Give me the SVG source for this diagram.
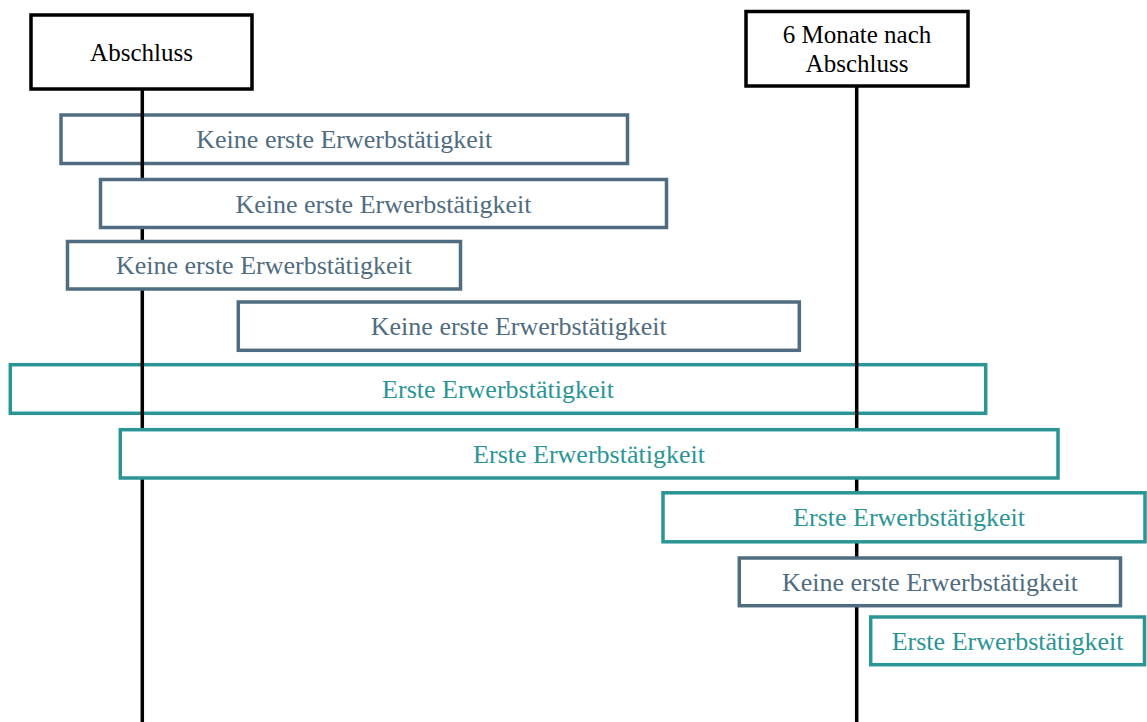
<svg xmlns="http://www.w3.org/2000/svg" width="1147" height="722" viewBox="0 0 1147 722">
<style>
.hdr{fill:#fff;stroke:#000;stroke-width:3.5}
.hdrt{font-family:"Liberation Serif","Times New Roman",serif;font-size:25px;fill:#000;text-anchor:middle}
.no{fill:#fff;stroke:#506C80;stroke-width:3.5}
.not{font-family:"Liberation Serif","Times New Roman",serif;font-size:26px;fill:#506C80;text-anchor:middle}
.yes{fill:#fff;stroke:#2B9595;stroke-width:3.5}
.yest{font-family:"Liberation Serif","Times New Roman",serif;font-size:26px;fill:#2B9595;text-anchor:middle}
.nofill{fill:none}
.conn{stroke:#000;stroke-width:3.5;fill:none}
</style>
<rect width="1147" height="722" fill="#fff"/>
<g id="row1">
<rect class="no" x="61" y="115" width="566.5" height="48.5"/>
<text class="not" x="344.3" y="148">Keine erste Erwerbstätigkeit</text>
</g>
<g id="row5">
<rect class="yes" x="10.3" y="364.7" width="975.4" height="48.6"/>
<text class="yest" x="498" y="398">Erste Erwerbstätigkeit</text>
</g>
<g id="connectors">
<line class="conn" x1="142.3" y1="89" x2="142.3" y2="722"/>
<line class="conn" x1="856.7" y1="86" x2="856.7" y2="722"/>
</g>
<g id="abschluss">
<rect class="hdr" x="31" y="15" width="221" height="74"/>
<text class="hdrt" x="141.5" y="61">Abschluss</text>
</g>
<g id="sechs-monate">
<rect class="hdr" x="746" y="11.5" width="222" height="74.5"/>
<text class="hdrt" x="857" y="43">6 Monate nach</text>
<text class="hdrt" x="857" y="72">Abschluss</text>
</g>
<g id="row2">
<rect class="no" x="100.5" y="179.5" width="566" height="48"/>
<text class="not" x="383.5" y="212.5">Keine erste Erwerbstätigkeit</text>
</g>
<g id="row3">
<rect class="no" x="67.5" y="241.5" width="393" height="47.5"/>
<text class="not" x="264" y="274.3">Keine erste Erwerbstätigkeit</text>
</g>
<g id="row4">
<rect class="no" x="238.3" y="302" width="561" height="48.3"/>
<text class="not" x="518.8" y="335">Keine erste Erwerbstätigkeit</text>
</g>
<g id="row6">
<rect class="yes" x="120.3" y="429.7" width="937.7" height="48.3"/>
<text class="yest" x="589" y="462.8">Erste Erwerbstätigkeit</text>
</g>
<g id="row7">
<rect class="yes" x="663" y="492.8" width="482" height="49"/>
<text class="yest" x="909" y="526.3">Erste Erwerbstätigkeit</text>
</g>
<g id="row8">
<rect class="no" x="739.3" y="558" width="381.2" height="47.7"/>
<text class="not" x="930" y="591">Keine erste Erwerbstätigkeit</text>
</g>
<g id="row9">
<rect class="yes" x="870.7" y="617" width="273.8" height="47.7"/>
<text class="yest" x="1007.6" y="650">Erste Erwerbstätigkeit</text>
</g>
</svg>
